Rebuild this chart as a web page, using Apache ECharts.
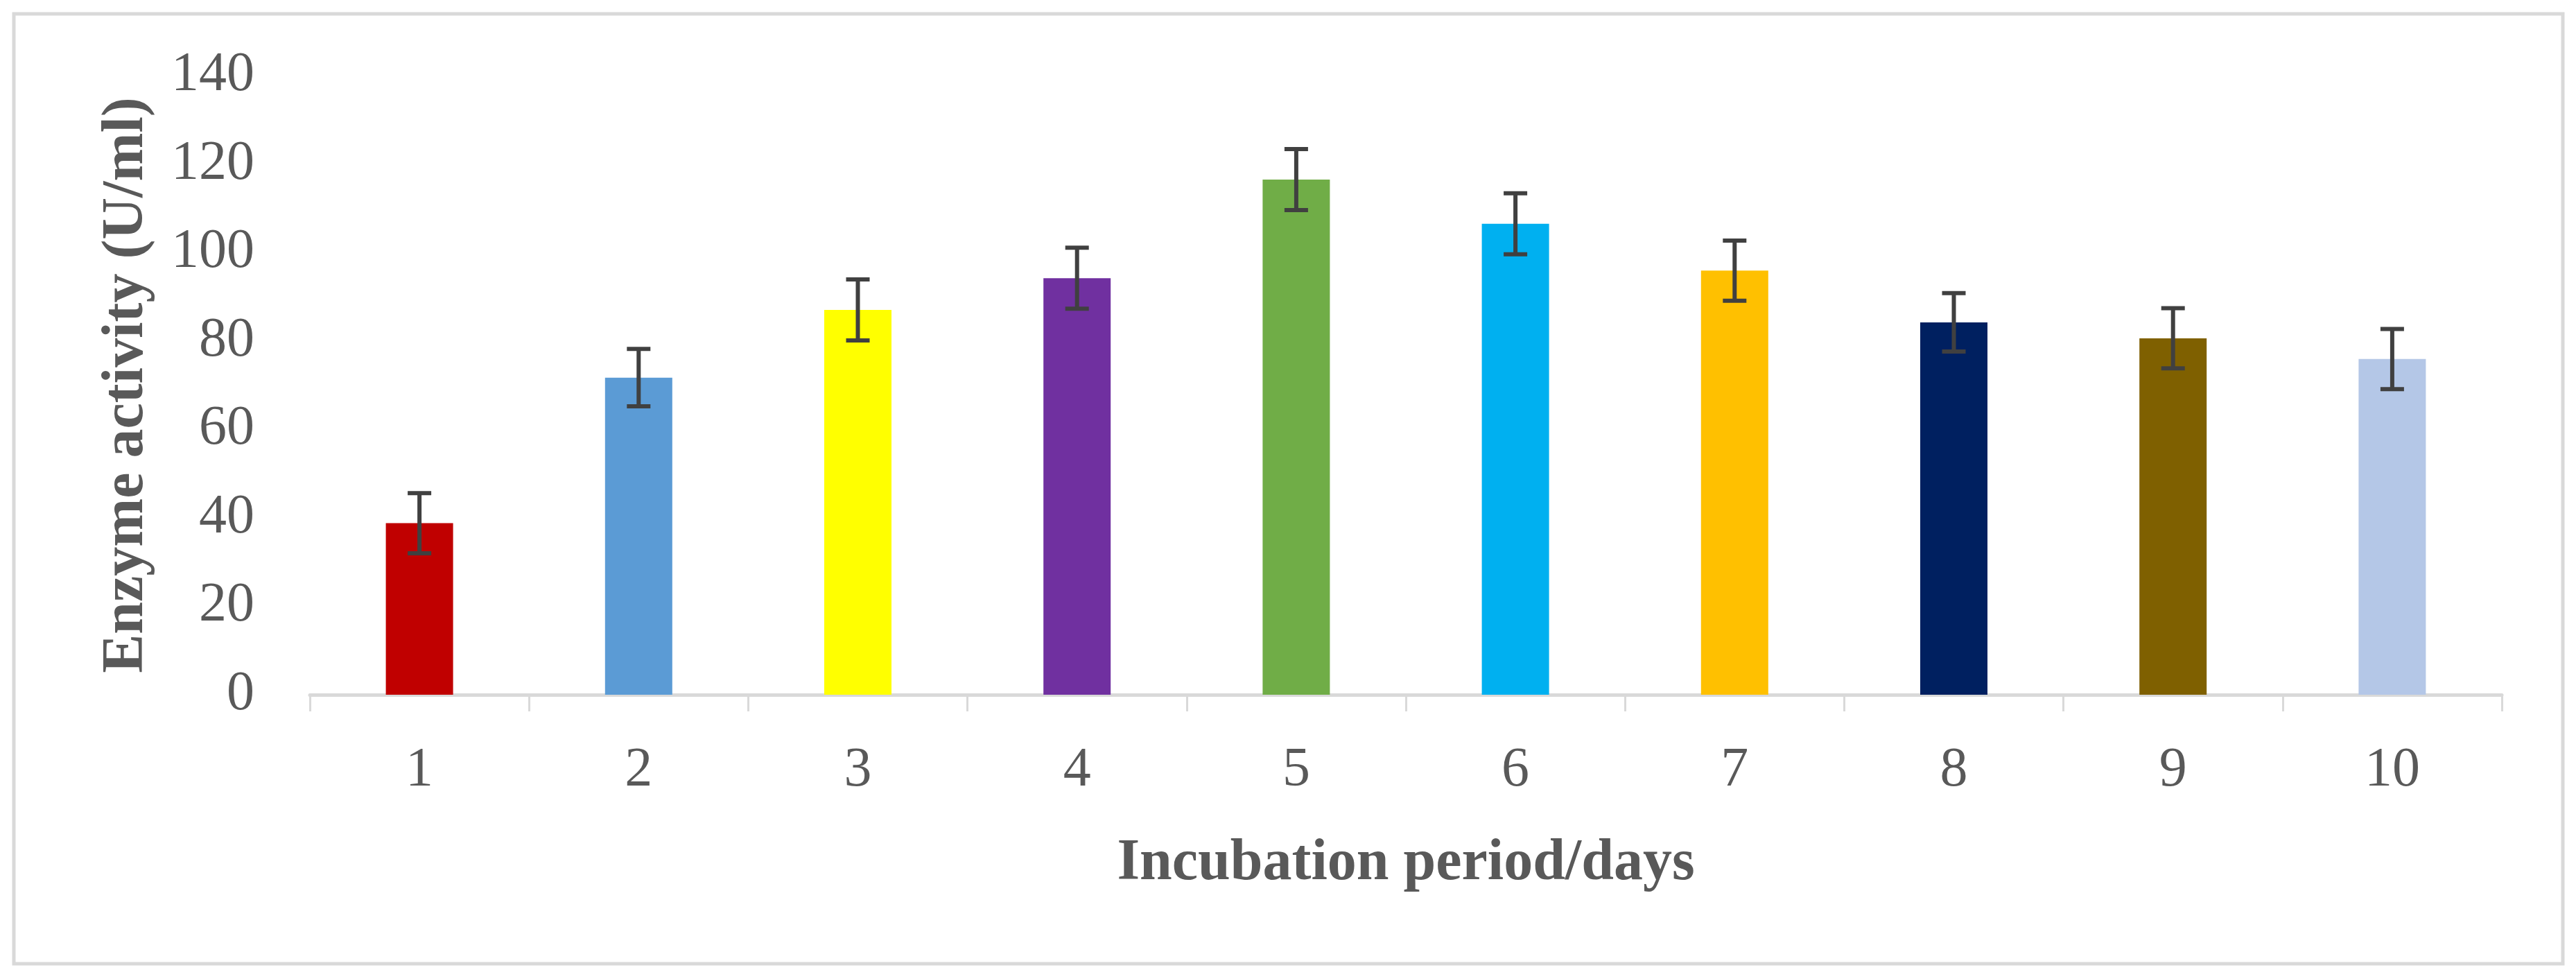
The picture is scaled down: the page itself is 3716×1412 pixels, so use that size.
<!DOCTYPE html>
<html>
<head>
<meta charset="utf-8">
<script src="https://cdn.jsdelivr.net/npm/echarts@6/dist/echarts.min.js"></script>
<style>
  html, body { margin: 0; padding: 0; background: #ffffff; }
  #chart { width: 3716px; height: 1412px; }
</style>
</head>
<body>
<div id="chart"></div>
<script>
const categories = ['1', '2', '3', '4', '5', '6', '7', '8', '9', '10'];
const activity = [38.8, 71.7, 87.0, 94.2, 116.5, 106.5, 95.9, 84.2, 80.6, 75.9];
const errors = [6.8, 6.5, 6.9, 6.9, 6.9, 6.9, 6.8, 6.6, 6.8, 6.8];
const barColors = ['#C00000', '#5B9BD5', '#FFFF00', '#7030A0', '#70AD47', '#00B0F0', '#FFC000', '#002060', '#7F6000', '#B4C7E7'];
const yTicks = { min: 0, max: 140, interval: 20 };
const xTitle = 'Incubation period/days';
const yTitle = 'Enzyme activity (U/ml)';

const FONT = '"Liberation Serif", "DejaVu Serif", serif';
const chart = echarts.init(document.getElementById('chart'), null, { renderer: 'canvas' });

const option = {
  backgroundColor: '#ffffff',
  animation: false,
  graphic: [{
    type: 'rect',
    shape: { x: 20, y: 20, width: 3677, height: 1370 },
    style: { fill: 'none', stroke: '#d9d9d9', lineWidth: 5 },
    silent: true
  }],
  grid: { left: 447, right: 107, top: 109, bottom: 410, containLabel: false },
  xAxis: {
    type: 'category',
    data: categories,
    boundaryGap: true,
    name: xTitle,
    nameLocation: 'middle',
    nameGap: 202,
    nameTextStyle: { fontFamily: FONT, fontSize: 84, fontWeight: 'bold', color: '#595959' },
    axisLine: { show: true, lineStyle: { color: '#d9d9d9', width: 5 } },
    axisTick: { show: true, alignWithLabel: false, length: 24, lineStyle: { color: '#d9d9d9', width: 3 } },
    axisLabel: { fontFamily: FONT, fontSize: 80, color: '#595959', margin: 70 },
    splitLine: { show: false }
  },
  yAxis: {
    type: 'value',
    min: yTicks.min,
    max: yTicks.max,
    interval: yTicks.interval,
    name: yTitle,
    nameLocation: 'middle',
    nameGap: 222,
    nameRotate: 90,
    nameTextStyle: { fontFamily: FONT, fontSize: 84, fontWeight: 'bold', color: '#595959' },
    axisLine: { show: false },
    axisTick: { show: false },
    axisLabel: { fontFamily: FONT, fontSize: 80, color: '#595959', margin: 80 },
    splitLine: { show: false }
  },
  series: [
    {
      type: 'bar',
      barWidth: 97,
      data: activity.map((v, i) => ({ value: v, itemStyle: { color: barColors[i] } })),
      z: 2
    },
    {
      type: 'custom',
      z: 5,
      data: activity.map((v, i) => [i, v - errors[i], v + errors[i]]),
      renderItem: function (params, api) {
        const x = api.value(0);
        const lo = api.coord([x, api.value(1)]);
        const hi = api.coord([x, api.value(2)]);
        const half = 17;
        const style = { stroke: '#404040', lineWidth: 6, fill: 'none' };
        return {
          type: 'group',
          children: [
            { type: 'line', shape: { x1: hi[0], y1: hi[1], x2: lo[0], y2: lo[1] }, style: style },
            { type: 'line', shape: { x1: hi[0] - half, y1: hi[1], x2: hi[0] + half, y2: hi[1] }, style: style },
            { type: 'line', shape: { x1: lo[0] - half, y1: lo[1], x2: lo[0] + half, y2: lo[1] }, style: style }
          ]
        };
      }
    }
  ]
};
chart.setOption(option);
</script>
</body>
</html>
